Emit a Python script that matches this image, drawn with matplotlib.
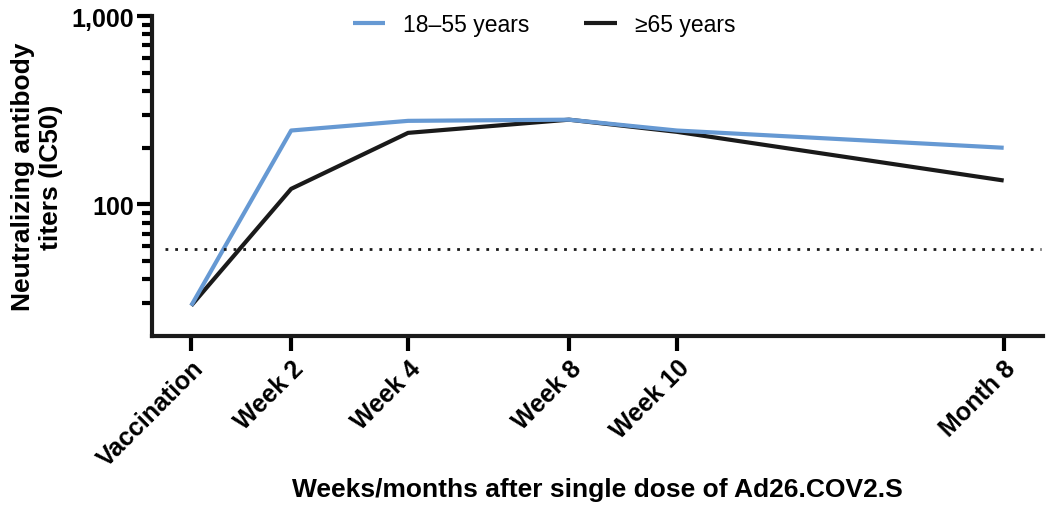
import matplotlib
matplotlib.use("Agg")
import matplotlib.pyplot as plt
import numpy as np

plt.rcParams['font.family'] = ['Liberation Sans', 'DejaVu Sans']

# category labels and their spacing along the x axis (as drawn in the figure)
labels = ['Vaccination', 'Week 2', 'Week 4', 'Week 8', 'Week 10', 'Month 8']
x_pos = [0, 1, 2.17, 3.78, 4.86, 8.13]

young = [29, 247, 278, 282, 247, 200]   # 18-55 years
old = [29, 121, 240, 282, 243, 134]     # >=65 years
threshold = 58

blue = '#6699D3'
black = '#1a1a1a'

fig = plt.figure(figsize=(10.5, 5.06), dpi=100)
ax = fig.add_axes([0.145, 0.334, 0.848, 0.632])

ax.plot(x_pos, old, color=black, linewidth=3, label='\u226565 years', solid_capstyle='butt')
ax.plot(x_pos, young, color=blue, linewidth=3, label='18\u201355 years', solid_capstyle='butt')
ax.axhline(threshold, xmin=0.014, xmax=0.998, color=black, linestyle=(0, (1, 2.5)), linewidth=2)

ax.set_yscale('log')
ax.set_ylim(20, 1000)
ax.set_xlim(-0.39, 8.52)
ax.set_yticks([100, 1000])
ax.set_yticklabels(['100', '1,000'])
ax.set_yticks([30, 40, 50, 60, 70, 80, 90, 200, 300, 400, 500, 600, 700, 800, 900], minor=True)
ax.set_yticklabels([], minor=True)

ax.set_xticks(x_pos)
ax.set_xticklabels(labels, rotation=45, ha='right', rotation_mode='anchor',
                   fontsize=18, fontweight='bold')
ax.tick_params(axis='x', length=11, width=3, pad=3)
ax.tick_params(axis='y', which='major', length=11, width=3, labelsize=18, pad=2)
ax.tick_params(axis='y', which='minor', length=7, width=3)
for t in ax.get_yticklabels():
    t.set_fontweight('bold')

for s in ['top', 'right']:
    ax.spines[s].set_visible(False)
for s in ['left', 'bottom']:
    ax.spines[s].set_linewidth(3)
    ax.spines[s].set_color(black)

ax.set_ylabel('Neutralizing antibody\ntiters (IC50)', fontsize=19, fontweight='bold', labelpad=6)
ax.set_xlabel('Weeks/months after single dose of Ad26.COV2.S', fontsize=19, fontweight='bold')
ax.xaxis.set_label_coords(0.5, -0.44)

handles, lbls = ax.get_legend_handles_labels()
ax.legend(handles[::-1], lbls[::-1], loc='upper center', bbox_to_anchor=(0.44, 1.075),
          ncol=2, frameon=False, fontsize=16.5, handlelength=1.4, columnspacing=2.4)

fig.savefig('out.png', dpi=100)
